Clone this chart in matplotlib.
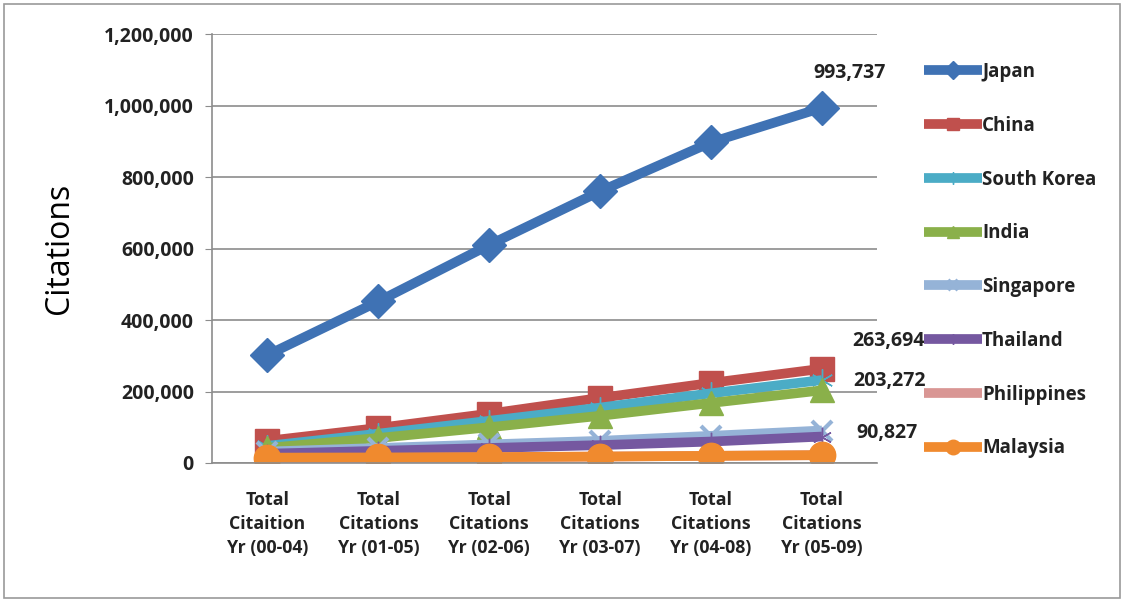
import matplotlib
matplotlib.use("Agg")
import matplotlib.pyplot as plt
from matplotlib.patches import Rectangle
from matplotlib.ticker import FuncFormatter

plt.rcParams['font.family'] = ['Open Sans', 'DejaVu Sans']

categories = ["Total\nCitaition\nYr (00-04)", "Total\nCitations\nYr (01-05)", "Total\nCitations\nYr (02-06)",
              "Total\nCitations\nYr (03-07)", "Total\nCitations\nYr (04-08)", "Total\nCitations\nYr (05-09)"]
japan = [302000, 452000, 610000, 760000, 897000, 993737]
china = [62000, 98000, 138000, 182000, 224000, 263694]
south_korea = [48000, 82000, 118000, 155000, 195000, 232000]
india = [42000, 70000, 100000, 132000, 168000, 203272]
singapore = [32000, 42000, 52000, 62000, 76000, 90827]
thailand = [26000, 34000, 42000, 50000, 60000, 74000]
philippines = [12000, 14000, 16000, 18000, 20000, 22000]
malaysia = [15000, 15500, 16500, 18000, 20000, 22000]

series = [
    ("Japan", japan, "#3F72B4", "D", 17),
    ("China", china, "#C0504D", "s", 17),
    ("South Korea", south_korea, "#4BACC6", (6, 2, 0), 16),
    ("India", india, "#8AB04A", "^", 17),
    ("Singapore", singapore, "#95B3D7", "x", 14),
    ("Thailand", thailand, "#7558A0", (6, 2, 0), 14),
    ("Philippines", philippines, "#D99694", "_", 14),
    ("Malaysia", malaysia, "#F08A2E", "o", 19),
]

fig = plt.figure(figsize=(11.24, 6.02), dpi=100)
fig.patches.append(Rectangle((0.004, 0.006), 0.992, 0.988, transform=fig.transFigure,
                             fill=False, edgecolor="#9a9a9a", linewidth=1.2))
ax = fig.add_axes([0.1886, 0.2309, 0.592, 0.7126])
x = list(range(len(categories)))

handles = []
for name, vals, col, mk, ms in series:
    if mk in ("x", "_"):
        h, = ax.plot(x, vals, color=col, linewidth=7, marker=mk, markersize=ms,
                     markeredgewidth=3, markeredgecolor=col, solid_capstyle="butt", label=name)
    else:
        h, = ax.plot(x, vals, color=col, linewidth=7, marker=mk, markersize=ms,
                     markerfacecolor=col, markeredgecolor=col, markeredgewidth=1,
                     solid_capstyle="butt", label=name)
    handles.append(h)

ax.set_xlim(-0.5, len(categories) - 0.5)
ax.set_ylim(0, 1200000)
ax.set_yticks(range(0, 1200001, 200000))
ax.yaxis.set_major_formatter(FuncFormatter(lambda v, p: f"{int(v):,}"))
ax.grid(axis="y", color="#8c8c8c", linewidth=1.2)
ax.set_axisbelow(True)
ax.set_xticks(x)
ax.set_xticklabels(categories, fontsize=12.8, fontweight="bold", color="#222222", linespacing=1.45)
for lbl in ax.get_yticklabels():
    lbl.set_fontsize(14)
    lbl.set_fontweight("bold")
    lbl.set_color("#222222")
ax.tick_params(axis="x", length=0, pad=20)
ax.tick_params(axis="y", length=5, color="#8c8c8c", pad=8)
for s in ["top", "right"]:
    ax.spines[s].set_visible(False)
ax.spines["left"].set_color("#8c8c8c")
ax.spines["bottom"].set_color("#8c8c8c")
ax.spines["left"].set_linewidth(1.2)
ax.spines["bottom"].set_linewidth(1.2)
ax.set_ylabel("Citations", fontsize=23, labelpad=20)

# value labels
lab_kw = dict(textcoords="offset points", ha="center", va="center", fontsize=14,
              fontweight="bold", color="#222222")
ax.annotate(f"{japan[-1]:,}", (x[-1], japan[-1]), xytext=(20, 25), **lab_kw)
ax.annotate(f"{china[-1]:,}", (x[-1], china[-1]), xytext=(48, 20), **lab_kw)
ax.annotate(f"{india[-1]:,}", (x[-1], india[-1]), xytext=(49, 7), **lab_kw)
ax.annotate(f"{singapore[-1]:,}", (x[-1], singapore[-1]), xytext=(47, -2), **lab_kw)

leg = fig.legend(handles=handles, loc="upper left", bbox_to_anchor=(0.807, 0.925),
                 frameon=False, fontsize=13.5, labelspacing=1.8, handlelength=3.1,
                 handletextpad=0.0, markerscale=0.55)
for t in leg.get_texts():
    t.set_fontweight("bold")
    t.set_color("#222222")

fig.savefig("out.png", dpi=100)
